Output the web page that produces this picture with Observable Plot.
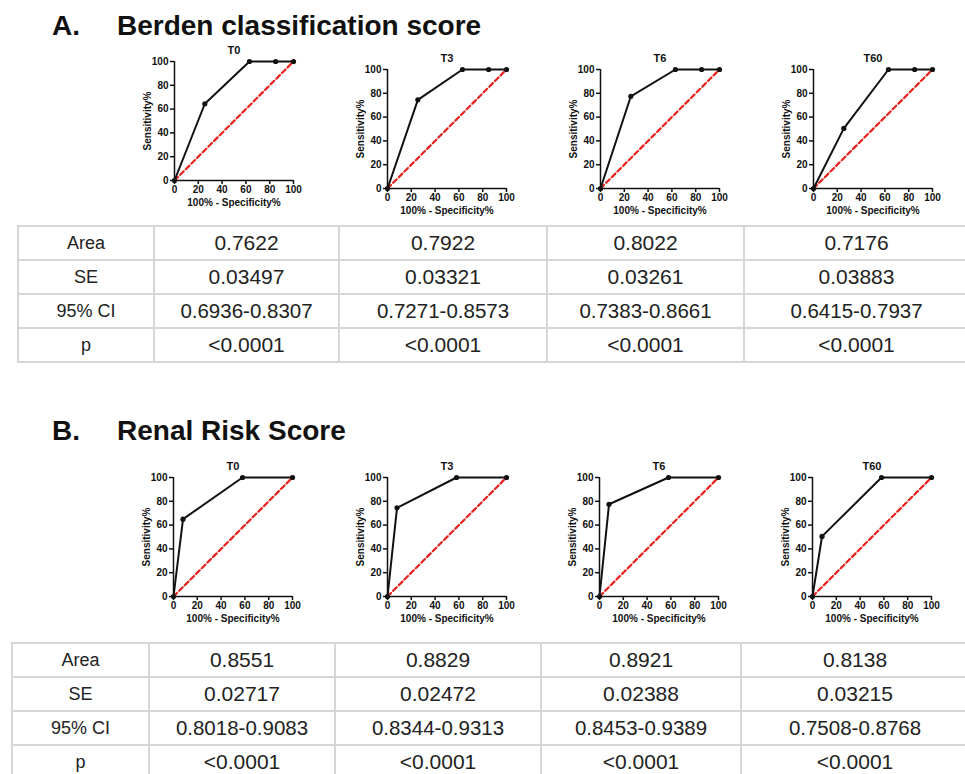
<!DOCTYPE html>
<html>
<head>
<meta charset="utf-8">
<script src="https://cdn.jsdelivr.net/npm/d3@7"></script>
<script src="https://cdn.jsdelivr.net/npm/@observablehq/plot@0.6"></script>
<style>
  html, body { margin: 0; padding: 0; background: #fff; }
  #root { position: relative; width: 965px; height: 774px; overflow: hidden; font-family: "Liberation Sans", Arial, Helvetica, sans-serif; }
  .head { position: absolute; font-weight: bold; font-size: 28px; color: #111; line-height: 1; white-space: nowrap; }
  .plot { position: absolute; }
  table.stats { position: absolute; border-collapse: collapse; table-layout: fixed; color: #222; }
  table.stats td { border: 2px solid #d6d6d6; padding: 0; text-align: center; vertical-align: middle; font-size: 21px; box-sizing: border-box; white-space: nowrap; }
  table.stats td.lab { font-size: 18px; }
  table.stats tr.ci td { font-size: 20.5px; }
  table.stats tr.ci td.lab { font-size: 18px; }
</style>
</head>
<body>
<div id="root"></div>
<script>
// ---------- data ----------
const timepoints = ["T0", "T3", "T6", "T60"];
const rowLabels = ["Area", "SE", "95% CI", "p"];

// Panel A: Berden classification score (100% - Specificity%, Sensitivity%)
const berdenX = [0, 25.5, 63, 85, 100];
const berdenY_T0 = [0, 64.5, 100, 100, 100];
const berdenY_T3 = [0, 74.5, 100, 100, 100];
const berdenY_T6 = [0, 77.5, 100, 100, 100];
const berdenY_T60 = [0, 50.5, 100, 100, 100];

const berdenArea = ["0.7622", "0.7922", "0.8022", "0.7176"];
const berdenSE = ["0.03497", "0.03321", "0.03261", "0.03883"];
const berdenCI = ["0.6936-0.8307", "0.7271-0.8573", "0.7383-0.8661", "0.6415-0.7937"];
const berdenP = ["<0.0001", "<0.0001", "<0.0001", "<0.0001"];

// Panel B: Renal Risk Score
const renalX = [0, 8, 58, 100];
const renalY_T0 = [0, 65, 100, 100];
const renalY_T3 = [0, 74.5, 100, 100];
const renalY_T6 = [0, 77.5, 100, 100];
const renalY_T60 = [0, 50.5, 100, 100];

const renalArea = ["0.8551", "0.8829", "0.8921", "0.8138"];
const renalSE = ["0.02717", "0.02472", "0.02388", "0.03215"];
const renalCI = ["0.8018-0.9083", "0.8344-0.9313", "0.8453-0.9389", "0.7508-0.8768"];
const renalP = ["<0.0001", "<0.0001", "<0.0001", "<0.0001"];

const axisTicks = [0, 20, 40, 60, 80, 100];
const diagonal = [0, 100];

// ---------- layout ----------
const root = document.getElementById("root");
const ML = 40, MR = 12, MT = 24, MB = 32, SIZE = 119;

function roc(xs, ys, title) {
  const data = xs.map((x, i) => ({x, y: ys[i]}));
  const diag = diagonal.map(v => ({x: v, y: v}));
  return Plot.plot({
    width: ML + SIZE + MR,
    height: MT + SIZE + MB,
    marginLeft: ML, marginRight: MR, marginTop: MT, marginBottom: MB,
    style: {fontFamily: "'Liberation Sans', Arial, sans-serif", fontSize: "10px", fontWeight: "bold", color: "#111", background: "transparent", overflow: "visible"},
    x: {domain: [0, 100]},
    y: {domain: [0, 100]},
    marks: [
      Plot.axisX({ticks: axisTicks, tickSize: 4, tickPadding: 1, tickFormat: d => d, fontSize: 10, label: "100% - Specificity%", labelAnchor: "center", labelArrow: "none", labelOffset: 25, strokeWidth: 1.5}),
      Plot.axisY({ticks: axisTicks, tickSize: 4, tickPadding: 2, tickFormat: d => d, fontSize: 10, label: "Sensitivity%", labelAnchor: "center", labelArrow: "none", labelOffset: 31, strokeWidth: 1.5}),
      Plot.line(diag, {x: "x", y: "y", stroke: "#e8211c", strokeWidth: 2.2, strokeDasharray: "5,3"}),
      Plot.ruleX([0], {stroke: "#111", strokeWidth: 1.5}),
      Plot.ruleY([0], {stroke: "#111", strokeWidth: 1.5}),
      Plot.line(data, {x: "x", y: "y", stroke: "#111", strokeWidth: 2}),
      Plot.dot(data, {x: "x", y: "y", r: 2.6, fill: "#111", stroke: "none"}),
      Plot.text([title], {frameAnchor: "top", dy: -15, fontSize: 11, fontWeight: "bold", fill: "#111"})
    ]
  });
}

function place(el, frameLeft, frameTop) {
  el.classList.add("plot");
  el.style.left = (frameLeft - ML) + "px";
  el.style.top = (frameTop - MT) + "px";
  root.appendChild(el);
}

function heading(letter, text, left, top) {
  const a = document.createElement("div");
  a.className = "head"; a.textContent = letter;
  a.style.left = left + "px"; a.style.top = top + "px";
  root.appendChild(a);
  const b = document.createElement("div");
  b.className = "head"; b.textContent = text;
  b.style.left = (left + 65) + "px"; b.style.top = top + "px";
  root.appendChild(b);
}

function table(cols, rowsY, values) {
  const t = document.createElement("table");
  t.className = "stats";
  t.style.left = cols[0] + "px";
  t.style.top = rowsY[0] + "px";
  t.style.width = (cols[cols.length - 1] - cols[0]) + "px";
  const cg = document.createElement("colgroup");
  for (let i = 0; i < cols.length - 1; i++) {
    const c = document.createElement("col");
    c.style.width = (cols[i + 1] - cols[i]) + "px";
    cg.appendChild(c);
  }
  t.appendChild(cg);
  rowLabels.forEach((lab, r) => {
    const tr = document.createElement("tr");
    if (lab === "95% CI") tr.className = "ci";
    const h = document.createElement("td");
    h.className = "lab"; h.textContent = lab;
    h.style.height = (rowsY[r + 1] - rowsY[r]) + "px";
    tr.appendChild(h);
    values[r].forEach(v => {
      const td = document.createElement("td");
      td.textContent = v;
      tr.appendChild(td);
    });
    t.appendChild(tr);
  });
  root.appendChild(t);
}

// Panel A
heading("A.", "Berden classification score", 52, 12);
place(roc(berdenX, berdenY_T0, timepoints[0]), 174, 61);
place(roc(berdenX, berdenY_T3, timepoints[1]), 387, 69);
place(roc(berdenX, berdenY_T6, timepoints[2]), 600, 69);
place(roc(berdenX, berdenY_T60, timepoints[3]), 813, 69);
table([17, 153, 338, 546, 743, 968], [225, 259, 293, 327, 361],
      [berdenArea, berdenSE, berdenCI, berdenP]);

// Panel B
heading("B.", "Renal Risk Score", 52, 417);
place(roc(renalX, renalY_T0, timepoints[0]), 173, 477);
place(roc(renalX, renalY_T3, timepoints[1]), 387, 477);
place(roc(renalX, renalY_T6, timepoints[2]), 599, 477);
place(roc(renalX, renalY_T60, timepoints[3]), 812, 477);
table([11, 148, 334, 540, 740, 968], [642, 676, 710, 744, 778],
      [renalArea, renalSE, renalCI, renalP]);
</script>
</body>
</html>
